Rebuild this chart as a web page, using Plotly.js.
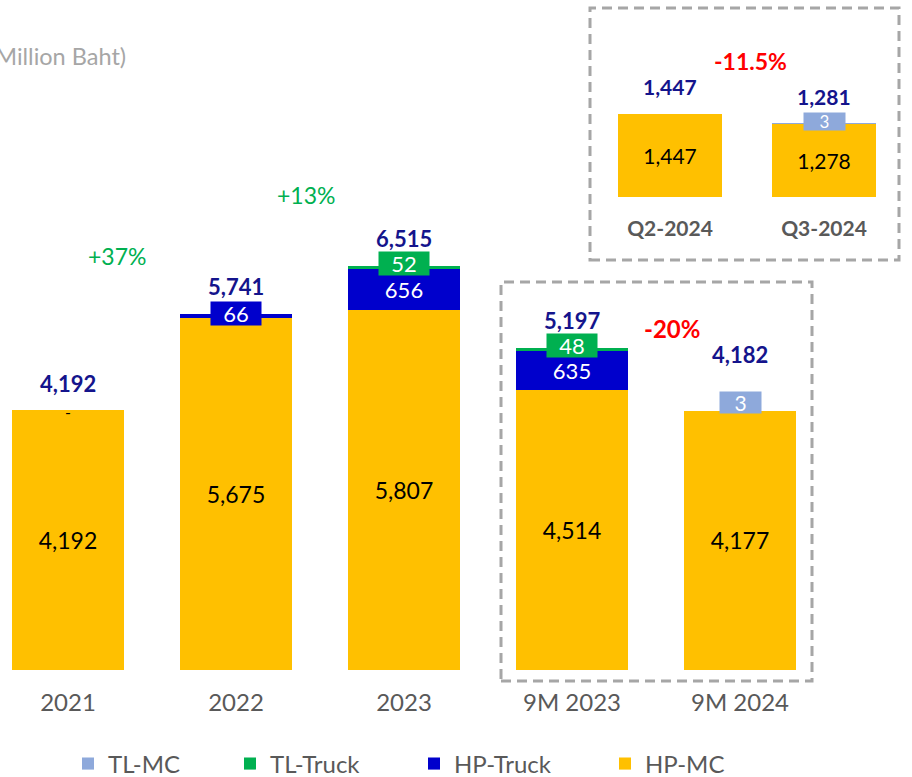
<!DOCTYPE html>
<html><head><meta charset="utf-8">
<script src="https://cdn.plot.ly/plotly-3.0.1.min.js"></script>
<style>html,body{margin:0;padding:0;background:#fff;}#chart{width:912px;height:777px;}</style>
</head><body><div id="chart"></div>
<script>
const categories = ['2021', '2022', '2023', '9M 2023', '9M 2024'];
const hpMC = [4192, 5675, 5807, 4514, 4177];
const hpTruck = [0, 66, 656, 635, 0];
const tlTruck = [0, 0, 52, 48, 0];
const tlMC = [0, 0, 0, 0, 3];
const totals = [4192, 5741, 6515, 5197, 4182];
const quarters = ['Q2-2024', 'Q3-2024'];
const qHpMC = [1447, 1278];
const qTlMC = [0, 3];
const qTotals = [1447, 1281];
const yoyLabels = ['+37%', '+13%'];
const nineMChange = '-20%';
const qoqChange = '-11.5%';
const unitLabel = '(Million Baht)';

const FONT = 'Lato, "Open Sans", sans-serif';
const C = {hpMC: '#FFC000', hpTruck: '#0000CC', tlTruck: '#00B050', tlMC: '#8EA9DB'};
const NAVY = '#14148C';
const fmt = v => v.toLocaleString('en-US');
const BW = 0.667;
const QBW = 0.669;

function barTrace(name, x, y, color, width, extra) {
  return Object.assign({
    type: 'bar', name: name, x: x, y: y, width: width,
    marker: {color: color, line: {width: 0}},
    hoverinfo: 'skip', cliponaxis: false
  }, extra || {});
}

const traces = [
  barTrace('HP-MC', categories, hpMC, C.hpMC, BW, {
    text: hpMC.map(fmt), textposition: 'inside', insidetextanchor: 'middle', textangle: 0,
    constraintext: 'none', textfont: {family: FONT, size: 23, color: '#000000'},
    legend: 'legend4', xaxis: 'x', yaxis: 'y'}),
  barTrace('HP-Truck', categories, hpTruck, C.hpTruck, BW, {
    text: hpTruck.map(v => v >= 100 ? fmt(v) : ''), textposition: 'inside', insidetextanchor: 'middle',
    textangle: 0, constraintext: 'none', textfont: {family: FONT, size: 22, color: '#FFFFFF'},
    legend: 'legend3', xaxis: 'x', yaxis: 'y'}),
  barTrace('TL-Truck', categories, tlTruck, C.tlTruck, BW, {legend: 'legend2', xaxis: 'x', yaxis: 'y'}),
  barTrace('TL-MC', categories, tlMC, C.tlMC, BW, {legend: 'legend', xaxis: 'x', yaxis: 'y'}),
  barTrace('HP-MC', quarters, qHpMC, C.hpMC, QBW, {
    text: qHpMC.map(fmt), textposition: 'inside', insidetextanchor: 'middle', textangle: 0,
    constraintext: 'none', textfont: {family: FONT, size: 21, color: '#000000'},
    showlegend: false, xaxis: 'x2', yaxis: 'y2'}),
  barTrace('TL-MC', quarters, qTlMC, C.tlMC, QBW, {showlegend: false, xaxis: 'x2', yaxis: 'y2'})
];

const annotations = [];
// small boxed labels sitting on the top of their stack segment
const smallSeries = [
  {vals: hpTruck, color: C.hpTruck, base: [hpMC], shift: 0},
  {vals: tlTruck, color: C.tlTruck, base: [hpMC, hpTruck], shift: 2},
  {vals: tlMC, color: C.tlMC, base: [hpMC, hpTruck, tlTruck], shift: 8}
];
smallSeries.forEach(s => {
  s.vals.forEach((v, i) => {
    if (v > 0 && v < 100) {
      const top = s.base.reduce((a, arr) => a + arr[i], 0) + v;
      annotations.push({x: i, y: top, xref: 'x', yref: 'y', text: fmt(v),
        showarrow: false, yshift: s.shift, bgcolor: s.color, borderpad: 2,
        width: v < 10 ? 37 : 46, height: v < 10 ? 17 : 19,
        font: {family: FONT, size: v < 10 ? 21 : 22, color: '#FFFFFF'}});
    }
  });
});
// zero marker dash for 2021
annotations.push({x: 0, y: totals[0], xref: 'x', yref: 'y', text: '-', showarrow: false,
  yshift: -1, font: {family: FONT, size: 16, color: '#000000'}});
// totals
totals.forEach((t, i) => {
  annotations.push({x: i, y: t, xref: 'x', yref: 'y', text: '<b>' + fmt(t) + '</b>',
    showarrow: false, yanchor: 'middle', yshift: 27 + (tlMC[i] > 0 ? 29 : 0),
    font: {family: FONT, size: 22, color: NAVY}});
});
// inset small label and totals
qTlMC.forEach((v, i) => {
  if (v > 0) {
    annotations.push({x: i, y: qTotals[i], xref: 'x2', yref: 'y2', text: fmt(v),
      showarrow: false, yshift: 2, bgcolor: C.tlMC, borderpad: 2, width: 37, height: 13,
      font: {family: FONT, size: 17, color: '#FFFFFF'}});
  }
});
qTotals.forEach((t, i) => {
  annotations.push({x: i, y: t, xref: 'x2', yref: 'y2', text: '<b>' + fmt(t) + '</b>',
    showarrow: false, yanchor: 'middle', yshift: 27, font: {family: FONT, size: 21, color: NAVY}});
});
// growth labels
annotations.push({x: 0.29, y: 6675, xref: 'x', yref: 'y', text: yoyLabels[0], showarrow: false,
  font: {family: FONT, size: 23, color: '#00B050'}});
annotations.push({x: 1.417, y: 7659, xref: 'x', yref: 'y', text: yoyLabels[1], showarrow: false,
  font: {family: FONT, size: 23, color: '#00B050'}});
annotations.push({x: 3.595, y: 5514, xref: 'x', yref: 'y', text: '<b>' + nineMChange + '</b>', showarrow: false,
  font: {family: FONT, size: 24, color: '#FF0000'}});
annotations.push({x: 0.52, y: 2370, xref: 'x2', yref: 'y2', text: '<b>' + qoqChange + '</b>', showarrow: false,
  font: {family: FONT, size: 23, color: '#FF0000'}});
// unit label (left part runs off the canvas, as in the source)
annotations.push({x: 128 / 912, y: (670 - 56) / 670, xref: 'paper', yref: 'paper', xanchor: 'right',
  yanchor: 'middle', text: unitLabel, showarrow: false, font: {family: FONT, size: 23.5, color: '#A6A6A6'}});

const dashLine = {color: '#A6A6A6', width: 3, dash: '10px,6px'};
const shapes = [
  {type: 'rect', xref: 'paper', yref: 'paper', x0: 590 / 912, x1: 899 / 912,
   y0: (670 - 260) / 670, y1: (670 - 8) / 670, line: dashLine, fillcolor: 'rgba(0,0,0,0)'},
  {type: 'rect', xref: 'paper', yref: 'paper', x0: 501 / 912, x1: 812 / 912,
   y0: (670 - 681) / 670, y1: (670 - 282) / 670, line: dashLine, fillcolor: 'rgba(0,0,0,0)'}
];

function legendAt(px) {
  return {orientation: 'h', x: px / 912, xanchor: 'left', xref: 'container',
    y: (777 - 764) / 777, yanchor: 'middle', yref: 'container',
    font: {family: FONT, size: 24, color: '#595959'}, bgcolor: 'rgba(0,0,0,0)',
    itemclick: false, itemdoubleclick: false};
}

const layout = {
  width: 912, height: 777,
  margin: {l: 0, r: 0, t: 0, b: 107, pad: 0},
  paper_bgcolor: '#FFFFFF', plot_bgcolor: 'rgba(0,0,0,0)',
  barmode: 'stack',
  font: {family: FONT},
  showlegend: true,
  legend: legendAt(68),
  legend2: legendAt(230),
  legend3: legendAt(414),
  legend4: legendAt(605),
  xaxis: {type: 'category', domain: [0, 1], range: [-68 / 168, (912 - 68) / 168], showgrid: false,
    zeroline: false, showline: false, ticks: '', ticklabelstandoff: 16, fixedrange: true,
    tickfont: {family: FONT, size: 24, color: '#595959'}, anchor: 'y'},
  yaxis: {domain: [0, 1], range: [0, 670 / 0.06202], visible: false, fixedrange: true},
  xaxis2: {type: 'category', domain: [593 / 912, 901 / 912], range: [-0.5, 1.5], showgrid: false,
    zeroline: false, showline: false, ticks: '', ticklabelstandoff: 17, anchor: 'y2', fixedrange: true,
    tickfont: {family: FONT, size: 21, color: '#595959', weight: 'bold'}},
  yaxis2: {domain: [(670 - 197) / 670, 1], range: [0, 197 / 0.0574], visible: false, anchor: 'x2', fixedrange: true},
  annotations: annotations,
  shapes: shapes
};

Plotly.newPlot('chart', traces, layout, {displayModeBar: false, staticPlot: true});
</script>
</body></html>
